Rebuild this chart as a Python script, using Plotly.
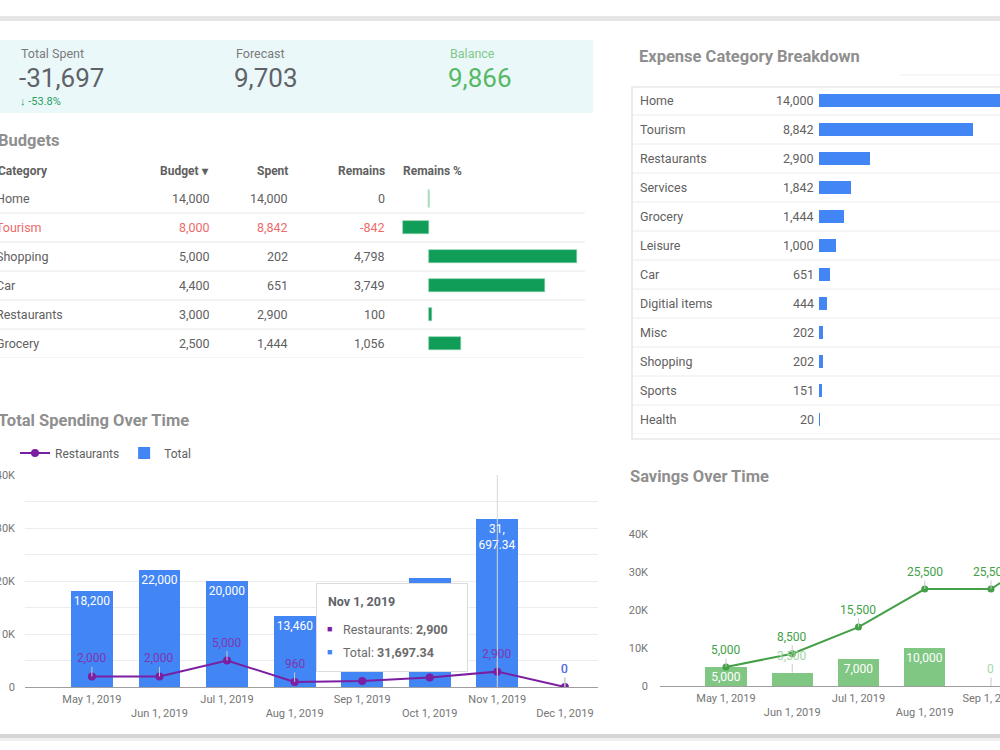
import plotly.graph_objects as go

W, H = 1000, 750
def px(x): return x / W
def py(y): return 1 - y / H

FONT = "Roboto"
GRAY_TXT = "#616161"
TITLE_C = "#8f8f8f"

# ---------------- data ----------------
kpi_labels = ["Total Spent", "Forecast", "Balance"]
kpi_values = ["-31,697", "9,703", "9,866"]
kpi_delta = "-53.8%"

bud_categories = ["Home", "Tourism", "Shopping", "Car", "Restaurants", "Grocery"]
bud_budget = [14000, 8000, 5000, 4400, 3000, 2500]
bud_spent = [14000, 8842, 202, 651, 2900, 1444]
bud_remains = [0, -842, 4798, 3749, 100, 1056]

exp_categories = ["Home", "Tourism", "Restaurants", "Services", "Grocery", "Leisure",
                  "Car", "Digitial items", "Misc", "Shopping", "Sports", "Health"]
exp_values = [14000, 8842, 2900, 1842, 1444, 1000, 651, 444, 202, 202, 151, 20]

months = ["May 1, 2019", "Jun 1, 2019", "Jul 1, 2019", "Aug 1, 2019",
          "Sep 1, 2019", "Oct 1, 2019", "Nov 1, 2019", "Dec 1, 2019"]
total_spend = [18200, 22000, 20000, 13460, 12500, 20600, 31697.34, 0]
restaurants_spend = [2000, 2000, 5000, 960, 1150, 1800, 2900, 0]
tooltip_month = "Nov 1, 2019"
# months whose value labels sit under the open tooltip in the reference
covered_months = ["Sep 1, 2019", "Oct 1, 2019"]

sav_months = ["May 1, 2019", "Jun 1, 2019", "Jul 1, 2019", "Aug 1, 2019",
              "Sep 1, 2019", "Oct 1, 2019"]
sav_monthly = [5000, 3500, 7000, 10000, 0, 11500]
sav_cumulative = [5000, 8500, 15500, 25500, 25500, 37000]

spend_ticks = [0, 5000, 10000, 15000, 20000, 25000, 30000, 35000, 40000]
sav_ticks = [0, 10000, 20000, 30000, 40000]


def fmt(v):
    if float(v).is_integer():
        return f"{int(v):,}"
    return f"{v:,.2f}"


def kfmt(v):
    return "0" if v == 0 else f"{int(v/1000)}K"


fig = go.Figure()
shapes = []
ann = []

# ---------------- frame decorations ----------------
shapes.append(dict(type="rect", xref="paper", yref="paper", x0=0, x1=1, y0=py(21), y1=py(16),
                   fillcolor="#e6e6e6", line=dict(width=0), layer="below"))
shapes.append(dict(type="rect", xref="paper", yref="paper", x0=0, x1=1, y0=py(738), y1=py(734),
                   fillcolor="#d6d6d6", line=dict(width=0), layer="below"))
shapes.append(dict(type="rect", xref="paper", yref="paper", x0=0, x1=1, y0=py(741), y1=py(738),
                   fillcolor="#efefef", line=dict(width=0), layer="below"))

# ---------------- KPI box ----------------
shapes.append(dict(type="rect", xref="paper", yref="paper", x0=px(-5), x1=px(593), y0=py(113), y1=py(40),
                   fillcolor="#ebf8fa", line=dict(width=0), layer="below"))
kpi_x = [19, 234, 448]
kpi_label_col = ["#7a7a7a", "#7a7a7a", "#7fc98a"]
kpi_val_col = ["#5f6368", "#5f6368", "#57b865"]
for i in range(3):
    ann.append(dict(x=px(kpi_x[i]), y=py(54), xref="paper", yref="paper", text=kpi_labels[i],
                    showarrow=False, xanchor="left", yanchor="middle",
                    font=dict(family=FONT, size=12.5, color=kpi_label_col[i])))
    ann.append(dict(x=px(kpi_x[i] - 2), y=py(78), xref="paper", yref="paper", text=kpi_values[i],
                    showarrow=False, xanchor="left", yanchor="middle",
                    font=dict(family=FONT, size=26, color=kpi_val_col[i])))
ann.append(dict(x=px(18), y=py(101), xref="paper", yref="paper", text="<b>↓</b> " + kpi_delta,
                showarrow=False, xanchor="left", yanchor="middle",
                font=dict(family=FONT, size=11, color="#1e9e5a")))

# ---------------- Budgets table ----------------
ann.append(dict(x=px(-4), y=py(141), xref="paper", yref="paper", text="<b>Budgets</b>",
                showarrow=False, xanchor="left", yanchor="middle",
                font=dict(family=FONT, size=16.5, color=TITLE_C)))
hdr_y = py(171)
for txt, x, anc in [("Category", -4, "left"), ("Budget ▾", 211, "right"), ("Spent", 290, "right"),
                    ("Remains", 387, "right"), ("Remains %", 401, "left")]:
    ann.append(dict(x=px(x), y=hdr_y, xref="paper", yref="paper", text=f"<b>{txt}</b>",
                    showarrow=False, xanchor=anc, yanchor="middle",
                    font=dict(family=FONT, size=12, color=GRAY_TXT)))

for i, cat in enumerate(bud_categories):
    col = "#ec6b6b" if bud_remains[i] < 0 else GRAY_TXT
    cells = [(cat, -6, "left"), (fmt(bud_budget[i]), 212, "right"),
             (fmt(bud_spent[i]), 290, "right"), (fmt(bud_remains[i]), 387, "right")]
    for txt, x, anc in cells:
        ann.append(dict(x=px(x), y=cat, xref="paper", yref="y", text=txt, showarrow=False,
                        xanchor=anc, yanchor="middle",
                        font=dict(family=FONT, size=12.5, color=col)))
    shapes.append(dict(type="line", xref="paper", yref="y", x0=0, x1=px(585),
                       y0=i + 0.5, y1=i + 0.5, line=dict(color="#e8e8e8", width=1), layer="below"))

fig.add_trace(go.Bar(x=bud_remains, y=bud_categories, orientation="h", width=0.45,
                     marker=dict(color="#0f9d58", line=dict(color="#7fcfa3", width=0.6)),
                     xaxis="x", yaxis="y", showlegend=False, hoverinfo="skip"))
zero_rows = [c for c, r in zip(bud_categories, bud_remains) if r == 0]
fig.add_trace(go.Scatter(x=[0] * len(zero_rows), y=zero_rows, mode="markers",
                         marker=dict(symbol="line-ns", size=13, line=dict(color="#a9dcbf", width=2)),
                         xaxis="x", yaxis="y", showlegend=False, hoverinfo="skip"))

# ---------------- Expense category breakdown ----------------
ann.append(dict(x=px(637), y=py(57), xref="paper", yref="paper", text="<b>Expense Category Breakdown</b>",
                showarrow=False, xanchor="left", yanchor="middle",
                font=dict(family=FONT, size=16.5, color=TITLE_C)))
shapes.append(dict(type="line", xref="paper", yref="paper", x0=px(900), x1=1, y0=py(75), y1=py(75),
                   line=dict(color="#eeeeee", width=1)))
shapes.append(dict(type="rect", xref="paper", yref="paper", x0=px(632), x1=px(1010), y0=py(439), y1=py(87),
                   fillcolor="white", line=dict(color="#dedede", width=1.2), layer="below"))
for i, cat in enumerate(exp_categories):
    ann.append(dict(x=px(638), y=cat, xref="paper", yref="y2", text=cat, showarrow=False,
                    xanchor="left", yanchor="middle", font=dict(family=FONT, size=12.5, color=GRAY_TXT)))
    ann.append(dict(x=px(816), y=cat, xref="paper", yref="y2", text=fmt(exp_values[i]), showarrow=False,
                    xanchor="right", yanchor="middle", font=dict(family=FONT, size=12.5, color=GRAY_TXT)))
    shapes.append(dict(type="line", xref="paper", yref="y2", x0=px(633), x1=1,
                       y0=i + 0.5, y1=i + 0.5, line=dict(color="#ececec", width=1), layer="below"))
fig.add_trace(go.Bar(x=exp_values, y=exp_categories, orientation="h", width=0.46,
                     marker=dict(color="#4285f4", line=dict(width=0)),
                     xaxis="x2", yaxis="y2", showlegend=False, hoverinfo="skip"))

# ---------------- Total spending over time ----------------
ann.append(dict(x=px(-4), y=py(420), xref="paper", yref="paper", text="<b>Total Spending Over Time</b>",
                showarrow=False, xanchor="left", yanchor="middle",
                font=dict(family=FONT, size=16.5, color=TITLE_C)))

PURPLE = "#7b1fa2"
fig.add_trace(go.Scatter(x=months, y=restaurants_spend, mode="lines+markers", name="Restaurants",
                         line=dict(color=PURPLE, width=2), marker=dict(size=8, color=PURPLE),
                         xaxis="x3", yaxis="y3", hoverinfo="skip"))
THR = 4000
spend_text = []
for m, v in zip(months, total_spend):
    s = fmt(v) if (v >= THR and m not in covered_months) else ""
    if len(s) > 7 and "," in s:
        s = s.replace(",", ",<br>", 1)
    spend_text.append(s)
fig.add_trace(go.Bar(x=months, y=total_spend, name="Total", width=0.62,
                     marker=dict(color="#4285f4", line=dict(width=0)),
                     text=spend_text, textposition="inside", insidetextanchor="end",
                     textangle=0, constraintext="none",
                     textfont=dict(family=FONT, size=12, color="white"),
                     xaxis="x3", yaxis="y3", hoverinfo="skip"))

for m, v in zip(months, restaurants_spend):
    if m in covered_months:
        continue
    ann.append(dict(x=m, y=v, xref="x3", yref="y3", text=fmt(v), showarrow=True, arrowhead=0,
                    arrowwidth=1, arrowcolor="#c8c8c8", ax=0, ay=-18, standoff=0,
                    font=dict(family=FONT, size=12, color="#7f36b3")))
for m, v in zip(months, total_spend):
    if v < THR and m not in covered_months:
        ann.append(dict(x=m, y=v, xref="x3", yref="y3", text=fmt(v), showarrow=True, arrowhead=0,
                        arrowwidth=1, arrowcolor="#c8c8c8", ax=0, ay=-18, standoff=0,
                        font=dict(family=FONT, size=12, color="#4a80f0")))

# hover spike + tooltip (drawn after the labels so it covers them)
ti = months.index(tooltip_month)
shapes.append(dict(type="line", xref="x3", yref="y3 domain", x0=months[ti], x1=months[ti], y0=0, y1=1,
                   line=dict(color="#d5d7da", width=1), layer="above"))
ann.append(dict(x=px(318), y=py(585), xref="paper", yref="paper", text=" ", showarrow=False,
                xanchor="left", yanchor="top", width=150, height=87,
                bgcolor="rgba(0,0,0,0.08)", borderwidth=0, borderpad=0))
ann.append(dict(x=px(316), y=py(583), xref="paper", yref="paper", text=" ", showarrow=False,
                xanchor="left", yanchor="top", width=150, height=87,
                bgcolor="white", bordercolor="#dcdcdc", borderwidth=1, borderpad=0))
ann.append(dict(x=px(326), y=py(601), xref="paper", yref="paper", text=f"<b>{months[ti]}</b>",
                showarrow=False, xanchor="left", yanchor="middle",
                font=dict(family=FONT, size=12.5, color="#5f6368")))
for yy, col, name, val in [(629, PURPLE, "Restaurants", fmt(restaurants_spend[ti])),
                           (652, "#4285f4", "Total", fmt(total_spend[ti]))]:
    ann.append(dict(x=px(325), y=py(yy), xref="paper", yref="paper", text="■",
                    showarrow=False, xanchor="left", yanchor="middle",
                    font=dict(family=FONT, size=9, color=col)))
    ann.append(dict(x=px(341), y=py(yy), xref="paper", yref="paper",
                    text=f"{name}: <b>{val}</b>", showarrow=False, xanchor="left", yanchor="middle",
                    font=dict(family=FONT, size=12.5, color="#6b6b6b")))

# ---------------- Savings over time ----------------
ann.append(dict(x=px(628), y=py(476), xref="paper", yref="paper", text="<b>Savings Over Time</b>",
                showarrow=False, xanchor="left", yanchor="middle",
                font=dict(family=FONT, size=16.5, color=TITLE_C)))
sav_text = [fmt(v) if v >= THR else "" for v in sav_monthly]
fig.add_trace(go.Bar(x=sav_months, y=sav_monthly, width=0.62,
                     marker=dict(color="#81c784", line=dict(width=0)),
                     text=sav_text, textposition="inside", insidetextanchor="end",
                     textangle=0, constraintext="none",
                     textfont=dict(family=FONT, size=12, color="white"),
                     xaxis="x4", yaxis="y4", showlegend=False, hoverinfo="skip"))
fig.add_trace(go.Scatter(x=sav_months, y=sav_cumulative, mode="lines+markers",
                         line=dict(color="#43a047", width=2), marker=dict(size=7, color="#43a047"),
                         xaxis="x4", yaxis="y4", showlegend=False, hoverinfo="skip"))
for m, v in zip(sav_months, sav_cumulative):
    ann.append(dict(x=m, y=v, xref="x4", yref="y4", text=fmt(v), showarrow=True, arrowhead=0,
                    arrowwidth=1, arrowcolor="#c8c8c8", ax=0, ay=-17, standoff=0,
                    font=dict(family=FONT, size=12, color="#43a047")))
for m, v in zip(sav_months, sav_monthly):
    if v < THR:
        ann.append(dict(x=m, y=v, xref="x4", yref="y4", text=fmt(v), showarrow=True, arrowhead=0,
                        arrowwidth=1, arrowcolor="#c8c8c8", ax=0, ay=-17, standoff=0,
                        font=dict(family=FONT, size=12, color="#a5d6a7")))

# ---------------- axes ----------------
tickfont = dict(family=FONT, size=11, color="#757575")
hidden = dict(visible=False, showgrid=False, zeroline=False, fixedrange=True, automargin=False)

spend_ticktext = [m if i % 2 == 0 else "<br>" + m for i, m in enumerate(months)]
sav_ticktext = [m if i % 2 == 0 else "<br>" + m for i, m in enumerate(sav_months)]

fig.update_layout(
    width=W, height=H, autosize=False,
    margin=dict(l=0, r=0, t=0, b=0, pad=0, autoexpand=False),
    paper_bgcolor="white", plot_bgcolor="rgba(0,0,0,0)",
    font=dict(family=FONT, color=GRAY_TXT),
    hovermode=False,
    bargap=0,
    xaxis=dict(domain=[px(395), px(590)], range=[-1090, 5220], anchor="y", **hidden),
    yaxis=dict(domain=[py(358), py(184)], type="category", categoryorder="array", anchor="x",
               categoryarray=bud_categories, range=[len(bud_categories) - 0.5, -0.5], **hidden),
    xaxis2=dict(domain=[px(818.5), 1], range=[0, 10410], anchor="y2", **hidden),
    yaxis2=dict(domain=[py(434), py(86)], type="category", categoryorder="array", anchor="x2",
                categoryarray=exp_categories, range=[len(exp_categories) - 0.5, -0.5], **hidden),
    xaxis3=dict(domain=[px(25), px(598)], type="category", range=[-0.99, 7.49], anchor="y3",
                tickmode="array", tickvals=months, ticktext=spend_ticktext,
                showgrid=False, zeroline=False, showline=False, ticks="", automargin=False,
                tickfont=tickfont, ticklabelstandoff=4, fixedrange=True),
    yaxis3=dict(domain=[py(687), py(475)], range=[0, 40000], anchor="x3",
                tickmode="array", tickvals=spend_ticks,
                ticktext=[kfmt(t) if t % 10000 == 0 else "" for t in spend_ticks],
                showgrid=True, gridcolor="#ededed", gridwidth=1, automargin=False,
                zeroline=True, zerolinecolor="#9e9e9e", zerolinewidth=1,
                showline=False, ticks="", tickfont=tickfont, ticklabelstandoff=9, fixedrange=True),
    xaxis4=dict(domain=[px(660), 1], type="category", range=[-0.996, 4.136], anchor="y4",
                tickmode="array", tickvals=sav_months, ticktext=sav_ticktext,
                showgrid=False, zeroline=False, showline=False, ticks="", automargin=False,
                tickfont=tickfont, ticklabelstandoff=4, fixedrange=True),
    yaxis4=dict(domain=[py(686), py(534)], range=[0, 40000], anchor="x4",
                tickmode="array", tickvals=sav_ticks, ticktext=[kfmt(t) for t in sav_ticks],
                showgrid=False, zeroline=True, zerolinecolor="#9e9e9e", zerolinewidth=1,
                automargin=False,
                showline=False, ticks="", tickfont=tickfont, ticklabelstandoff=11, fixedrange=True),
    legend=dict(x=px(15), y=py(453), xanchor="left", yanchor="middle", orientation="h",
                bgcolor="rgba(0,0,0,0)", font=dict(family=FONT, size=12, color=GRAY_TXT),
                itemwidth=30, traceorder="normal"),
    shapes=shapes,
    annotations=ann,
)

fig.write_html(
    "out.html",
    post_script="document.body.style.margin='0';document.body.style.padding='0';"
                "document.body.style.overflow='hidden';",
)
